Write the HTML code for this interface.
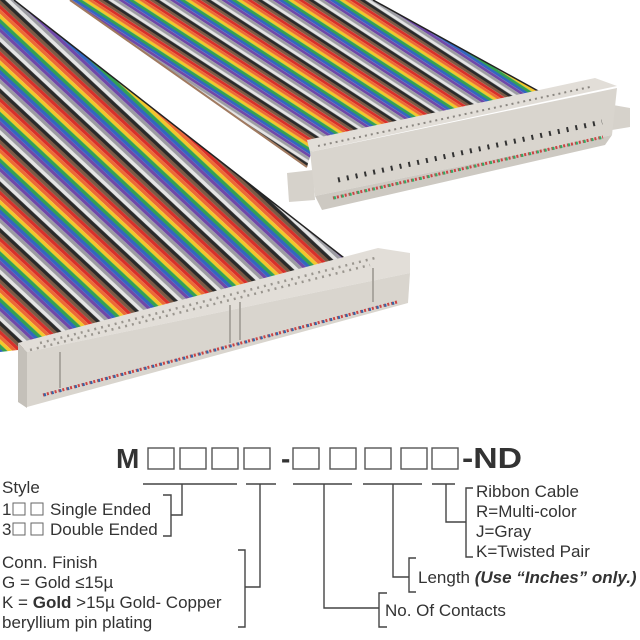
<!DOCTYPE html>
<html><head><meta charset="utf-8"><style>html,body{margin:0;padding:0;background:#fff}svg{display:block}</style></head>
<body>
<svg width="640" height="640" viewBox="0 0 640 640" xmlns="http://www.w3.org/2000/svg" font-family="Liberation Sans, Arial, sans-serif">
<defs>
<pattern id="rib1" patternUnits="userSpaceOnUse" width="200" height="34" patternTransform="rotate(43)">
<rect y="0" width="200" height="3.4" fill="#7a5a45"/><rect y="3.4" width="200" height="3.4" fill="#d8302a"/>
<rect y="6.8" width="200" height="3.4" fill="#ec6a35"/><rect y="10.2" width="200" height="3.4" fill="#f2c82a"/>
<rect y="13.6" width="200" height="3.4" fill="#34a052"/><rect y="17" width="200" height="3.4" fill="#3366c0"/>
<rect y="20.4" width="200" height="3.4" fill="#7048a8"/><rect y="23.8" width="200" height="3.4" fill="#9c9ca2"/>
<rect y="27.2" width="200" height="3.4" fill="#e4e4e4"/><rect y="30.6" width="200" height="3.4" fill="#2a2a2a"/>
</pattern>
<pattern id="rib2" patternUnits="userSpaceOnUse" width="200" height="28" patternTransform="rotate(33)">
<rect y="0" width="200" height="2.8" fill="#7a5a45"/><rect y="2.8" width="200" height="2.8" fill="#d8302a"/>
<rect y="5.6" width="200" height="2.8" fill="#ec6a35"/><rect y="8.4" width="200" height="2.8" fill="#f2c82a"/>
<rect y="11.2" width="200" height="2.8" fill="#34a052"/><rect y="14" width="200" height="2.8" fill="#3366c0"/>
<rect y="16.8" width="200" height="2.8" fill="#7048a8"/><rect y="19.6" width="200" height="2.8" fill="#9c9ca2"/>
<rect y="22.4" width="200" height="2.8" fill="#e4e4e4"/><rect y="25.2" width="200" height="2.8" fill="#2a2a2a"/>
</pattern>
</defs>

<polygon points="70,0 373,0 540,92 312,150 307,167" fill="url(#rib2)"/>
<line x1="373" y1="0" x2="540" y2="92" stroke="#222" stroke-width="1.5"/>
<line x1="70" y1="0" x2="307" y2="167" stroke="#a07a60" stroke-width="2"/>
<polygon points="287,173 313,170 315,200 289,202" fill="#d6d2cb"/>
<polygon points="613,105 630,108 630,127 612,130" fill="#d6d2cb"/>
<polygon points="307,140 595,78 617,86 310,152" fill="#e2ded8"/>
<polygon points="310,152 617,88 612,135 315,196" fill="#d9d5ce"/>
<polygon points="315,196 612,135 605,145 322,210" fill="#cdc9c2"/>
<line x1="318" y1="146" x2="590" y2="87" stroke="#8a8680" stroke-width="2" stroke-dasharray="2,4"/>
<line x1="338" y1="180" x2="602" y2="122" stroke="#333" stroke-width="5" stroke-dasharray="2,7"/>
<line x1="333" y1="198" x2="603" y2="137" stroke="#c44" stroke-width="3" stroke-dasharray="2,2"/>
<line x1="334" y1="198" x2="604" y2="137" stroke="#3a6" stroke-width="3" stroke-dasharray="2,6"/>

<polygon points="0,0 14,0 362,272 18,350 0,352" fill="url(#rib1)"/>
<line x1="14" y1="0" x2="362" y2="272" stroke="#222" stroke-width="1.5"/>
<polygon points="18,343 378,248 410,253 410,273 27,352" fill="#e2ded8"/>
<polygon points="27,352 410,273 408,303 27,407" fill="#d9d5ce"/>
<polygon points="18,343 27,352 27,408 18,402" fill="#c4c0b9"/>
<line x1="40" y1="343" x2="375" y2="258" stroke="#9a968f" stroke-width="2.5" stroke-dasharray="2,5"/>
<line x1="30" y1="350" x2="370" y2="265" stroke="#9a968f" stroke-width="2.5" stroke-dasharray="2,5"/>
<line x1="60" y1="352" x2="60" y2="388" stroke="#aaa69f" stroke-width="2"/>
<line x1="230" y1="305" x2="230" y2="343" stroke="#aaa69f" stroke-width="2"/>
<line x1="240" y1="302" x2="240" y2="340" stroke="#aaa69f" stroke-width="2"/>
<line x1="373" y1="268" x2="373" y2="302" stroke="#aaa69f" stroke-width="2"/>
<line x1="43" y1="395" x2="397" y2="302" stroke="#c44" stroke-width="3" stroke-dasharray="2,2"/>
<line x1="44" y1="395" x2="398" y2="302" stroke="#36a" stroke-width="3" stroke-dasharray="2,6"/>

<g fill="#333" font-weight="bold">
<text x="116" y="468" font-size="28">M</text>
<text x="281" y="468" font-size="28">-</text>
<text x="462" y="468" font-size="29" textLength="60" lengthAdjust="spacingAndGlyphs">-ND</text>
</g>
<g fill="none" stroke="#555" stroke-width="1.4">
<rect x="148" y="448" width="26" height="21"/><rect x="180" y="448" width="26" height="21"/>
<rect x="212" y="448" width="26" height="21"/><rect x="244" y="448" width="26" height="21"/>
<rect x="293" y="448" width="26" height="21"/><rect x="330" y="448" width="26" height="21"/>
<rect x="365" y="448" width="26" height="21"/><rect x="401" y="448" width="26" height="21"/>
<rect x="432" y="448" width="26" height="21"/>
</g>
<g fill="none" stroke="#444" stroke-width="1.4">
<path d="M143,484H237 M246,484H276 M293,484H352 M363,484H422 M432,484H455"/>
<path d="M182,484V515H171 M163,495H171V536H163"/>
<path d="M260,484V587H245 M238,550H245V627H238"/>
<path d="M324,484V608H379 M387,593H379V627H387"/>
<path d="M393,484V577H409 M416,558H409V592H416"/>
<path d="M446,484V522H466 M473,488H466V557H473"/>
<rect x="13" y="503" width="12" height="12" stroke="#666" stroke-width="1"/>
<rect x="31" y="503" width="12" height="12" stroke="#666" stroke-width="1"/>
<rect x="13" y="523" width="12" height="12" stroke="#666" stroke-width="1"/>
<rect x="31" y="523" width="12" height="12" stroke="#666" stroke-width="1"/>
</g>
<g fill="#333" font-size="17">
<text x="2" y="493">Style</text>
<text x="2" y="515">1</text><text x="50" y="515">Single Ended</text>
<text x="2" y="535">3</text><text x="50" y="535">Double Ended</text>
<text x="2" y="568">Conn. Finish</text>
<text x="2" y="588">G = Gold ≤15µ</text>
<text x="2" y="608">K = <tspan font-weight="bold">Gold</tspan> &gt;15µ Gold- Copper</text>
<text x="2" y="628">beryllium pin plating</text>
<text x="476" y="497">Ribbon Cable</text>
<text x="476" y="517">R=Multi-color</text>
<text x="476" y="537">J=Gray</text>
<text x="476" y="557">K=Twisted Pair</text>
<text x="418" y="583">Length <tspan font-weight="bold" font-style="italic">(Use “Inches” only.)</tspan></text>
<text x="385" y="616">No. Of Contacts</text>
</g>
</svg>
</body></html>
